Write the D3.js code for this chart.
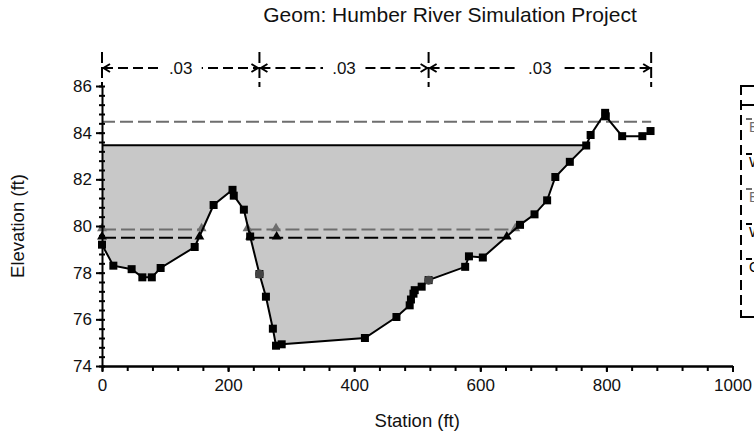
<!DOCTYPE html>
<html>
<head>
<meta charset="utf-8">
<script src="https://cdn.jsdelivr.net/npm/d3@7"></script>
<style>
  body { margin: 0; background: #fff; }
  svg { display: block; font-family: "Liberation Sans", Arial, sans-serif; }
</style>
</head>
<body>
<svg id="chart" width="754" height="433"></svg>
<script>
// Cross section data (station ft, elevation ft)
var groundSta  = [0, 18, 47, 64, 79, 93, 147, 177, 207, 209, 225, 235, 249.7, 260, 271, 276, 285,
                  417, 467, 488, 490, 494, 496, 507, 518, 576, 582, 604, 663, 686, 706, 719, 742,
                  768, 775, 798, 799, 825, 857, 870];
var groundElev = [79.2, 78.3, 78.15, 77.8, 77.8, 78.2, 79.1, 80.9, 81.55, 81.3, 80.7, 79.55, 77.94, 76.97, 75.6, 74.87, 74.93,
                  75.2, 76.1, 76.6, 76.85, 77.1, 77.25, 77.4, 77.68, 78.25, 78.7, 78.65, 80.05, 80.5, 81.1, 82.1, 82.75,
                  83.45, 83.9, 84.85, 84.7, 83.85, 83.85, 84.07];

var bankSta  = [249.7, 518];
var bankElev = [77.94, 77.68];

var wsElev = 83.46;            // water surface (filled)
var egElev = 84.47;            // energy grade line
var egRange = [0, 871];

// other profiles, drawn as dashed lines with triangles
var grayProfileElev = 79.85;
var grayProfileSegs = [[0, 158], [230.7, 276, 655.5]];
var blackProfileElev = 79.5;
var blackProfileSegs = [[0, 154.5], [235, 277, 642]];

// Manning's n regions
var nSta = [0, 249.7, 518, 871];
var nVals = [".03", ".03", ".03"];

var xTicks = [0, 200, 400, 600, 800, 1000];
var yTicks = [74, 76, 78, 80, 82, 84, 86];

var legendLabels = ["EG PF 1", "WS PF 1", "EG PF 2", "WS PF 2", "Ground"];
var legendColors = ["#6e6e6e", "#000", "#6e6e6e", "#000", "#000"];

var svg = d3.select("#chart");
var x = d3.scaleLinear().domain([0, 1000]).range([102, 732.5]);
var y = d3.scaleLinear().domain([74, 86]).range([366, 86]);

var grayCol = "#6e6e6e";

// title
svg.append("text")
    .attr("x", 450).attr("y", 22)
    .attr("text-anchor", "middle")
    .style("font-size", "21px").style("fill", "#111")
    .text("Geom: Humber River Simulation Project");

// water fill: WS level down to ground, until ground rises above WS
var pts = groundSta.map(function(s, i) { return [s, groundElev[i]]; });
var wet = [];
for (var i = 0; i < pts.length; i++) {
    if (pts[i][1] <= wsElev) { wet.push(pts[i]); continue; }
    var p0 = pts[i - 1], p1 = pts[i];
    var cx = p0[0] + (wsElev - p0[1]) / (p1[1] - p0[1]) * (p1[0] - p0[0]);
    wet.push([cx, wsElev]);
    break;
}
var wsEnd = wet[wet.length - 1][0];
var fillPts = [[0, wsElev]].concat(wet);

svg.append("path")
    .datum(fillPts)
    .attr("d", d3.line().x(function(d) { return x(d[0]); }).y(function(d) { return y(d[1]); }))
    .attr("fill", "#c8c8c8").attr("stroke", "none");

svg.append("line")
    .attr("x1", x(0)).attr("x2", x(wsEnd))
    .attr("y1", y(wsElev)).attr("y2", y(wsElev))
    .attr("stroke", "#000").attr("stroke-width", 2);

// EG line
svg.append("line")
    .attr("x1", x(egRange[0])).attr("x2", x(egRange[1]))
    .attr("y1", y(egElev)).attr("y2", y(egElev))
    .attr("stroke", grayCol).attr("stroke-width", 2)
    .attr("stroke-dasharray", "13,5");

// profile lines
function profile(segs, elev, col) {
    segs.forEach(function(seg) {
        svg.append("line")
            .attr("x1", x(seg[0])).attr("x2", x(seg[seg.length - 1]))
            .attr("y1", y(elev)).attr("y2", y(elev))
            .attr("stroke", col).attr("stroke-width", 2)
            .attr("stroke-dasharray", "14,5");
        seg.forEach(function(s) {
            svg.append("path")
                .attr("d", d3.symbol().type(d3.symbolTriangle).size(42)())
                .attr("transform", "translate(" + x(s) + "," + (y(elev) - 1) + ")")
                .attr("fill", col);
        });
    });
}
profile(grayProfileSegs, grayProfileElev, grayCol);
profile(blackProfileSegs, blackProfileElev, "#000");

// ground
svg.append("path")
    .datum(pts)
    .attr("d", d3.line().x(function(d) { return x(d[0]); }).y(function(d) { return y(d[1]); }))
    .attr("fill", "none").attr("stroke", "#000").attr("stroke-width", 2);

svg.selectAll("rect.gp")
    .data(pts)
    .enter().append("rect")
    .attr("class", "gp")
    .attr("x", function(d) { return x(d[0]) - 4; })
    .attr("y", function(d) { return y(d[1]) - 4; })
    .attr("width", 8).attr("height", 8)
    .attr("fill", "#000");

svg.selectAll("circle.bank")
    .data(bankSta)
    .enter().append("circle")
    .attr("class", "bank")
    .attr("cx", function(d) { return x(d); })
    .attr("cy", function(d, i) { return y(bankElev[i]); })
    .attr("r", 4.5)
    .attr("fill", "#444");

// axes
var xAxis = svg.append("g")
    .attr("transform", "translate(0," + y(74) + ")")
    .call(d3.axisBottom(x).tickValues(xTicks).tickSize(6).tickSizeOuter(0).tickPadding(7).tickFormat(d3.format("d")));
var xMinor = svg.append("g")
    .attr("transform", "translate(0," + y(74) + ")")
    .call(d3.axisBottom(x).tickValues(d3.range(0, 1001, 40)).tickSize(5).tickSizeOuter(0).tickFormat(""));

var yAxis = svg.append("g")
    .attr("transform", "translate(" + x(0) + ",0)")
    .call(d3.axisLeft(y).tickValues(yTicks).tickSize(6).tickSizeOuter(0).tickPadding(4).tickFormat(d3.format("d")));
var yMinor = svg.append("g")
    .attr("transform", "translate(" + (x(0) + 3) + ",0)")
    .call(d3.axisLeft(y).tickValues(d3.range(74, 86.01, 0.4)).tickSize(6).tickSizeOuter(0).tickFormat(""));
yMinor.select(".domain").remove();

[xAxis, xMinor, yAxis, yMinor].forEach(function(g) {
    g.selectAll("path").attr("stroke", "#000").attr("stroke-width", 2);
    g.selectAll("line").attr("stroke", "#000").attr("stroke-width", 2);
    g.selectAll("text").style("font-size", "17px").style("fill", "#111")
        .style("font-family", "'Liberation Sans', Arial, sans-serif");
});

svg.append("text")
    .attr("x", (x(0) + x(1000)) / 2).attr("y", 427)
    .attr("text-anchor", "middle")
    .style("font-size", "18.5px").style("fill", "#111")
    .text("Station (ft)");

svg.append("text")
    .attr("transform", "translate(24," + ((y(74) + y(86)) / 2) + ") rotate(-90)")
    .attr("text-anchor", "middle")
    .style("font-size", "18.5px").style("fill", "#111")
    .text("Elevation (ft)");

// Manning's n bar
var nY = 68;
nSta.forEach(function(s) {
    svg.append("line")
        .attr("x1", x(s)).attr("x2", x(s))
        .attr("y1", 52).attr("y2", 87)
        .attr("stroke", "#000").attr("stroke-width", 2)
        .attr("stroke-dasharray", "11,4");
});
nVals.forEach(function(v, i) {
    var x0 = x(nSta[i]), x1 = x(nSta[i + 1]);
    svg.append("line")
        .attr("x1", x0 + 1).attr("x2", x1 - 1)
        .attr("y1", nY).attr("y2", nY)
        .attr("stroke", "#000").attr("stroke-width", 2)
        .attr("stroke-dasharray", "10,5");
    svg.append("path")
        .attr("d", "M" + (x0 + 8) + "," + (nY - 4) + "L" + (x0 + 1.5) + "," + nY + "L" + (x0 + 8) + "," + (nY + 4))
        .attr("fill", "none").attr("stroke", "#000").attr("stroke-width", 2);
    svg.append("path")
        .attr("d", "M" + (x1 - 8) + "," + (nY - 4) + "L" + (x1 - 1.5) + "," + nY + "L" + (x1 - 8) + "," + (nY + 4))
        .attr("fill", "none").attr("stroke", "#000").attr("stroke-width", 2);
    var mx = (x0 + x1) / 2;
    svg.append("rect")
        .attr("x", mx - 21).attr("y", nY - 9).attr("width", 42).attr("height", 18)
        .attr("fill", "#fff");
    svg.append("text")
        .attr("x", mx).attr("y", nY + 6)
        .attr("text-anchor", "middle")
        .style("font-size", "17px").style("fill", "#111")
        .text(v);
});

// legend (mostly off the right edge, as in the source image)
var lg = svg.append("g");
lg.append("line").attr("x1", 741).attr("x2", 900).attr("y1", 86).attr("y2", 86)
    .attr("stroke", "#000").attr("stroke-width", 2);
lg.append("line").attr("x1", 741).attr("x2", 900).attr("y1", 105).attr("y2", 105)
    .attr("stroke", "#000").attr("stroke-width", 2);
lg.append("line").attr("x1", 741).attr("x2", 900).attr("y1", 317).attr("y2", 317)
    .attr("stroke", "#000").attr("stroke-width", 2);
lg.append("line").attr("x1", 741).attr("x2", 741).attr("y1", 85).attr("y2", 318)
    .attr("stroke", "#000").attr("stroke-width", 2).attr("stroke-dasharray", "10,5");
lg.append("text").attr("x", 790).attr("y", 101).style("font-size", "14px").text("Legend");
legendLabels.forEach(function(t, i) {
    var ly = 119 + i * 35;
    lg.append("line").attr("x1", 746).attr("x2", 790).attr("y1", ly).attr("y2", ly)
        .attr("stroke", legendColors[i]).attr("stroke-width", 2).attr("stroke-dasharray", "6,8");
    lg.append("text").attr("x", 749).attr("y", ly + 13)
        .style("font-size", "14px").style("fill", legendColors[i]).text(t);
});
</script>
</body>
</html>
